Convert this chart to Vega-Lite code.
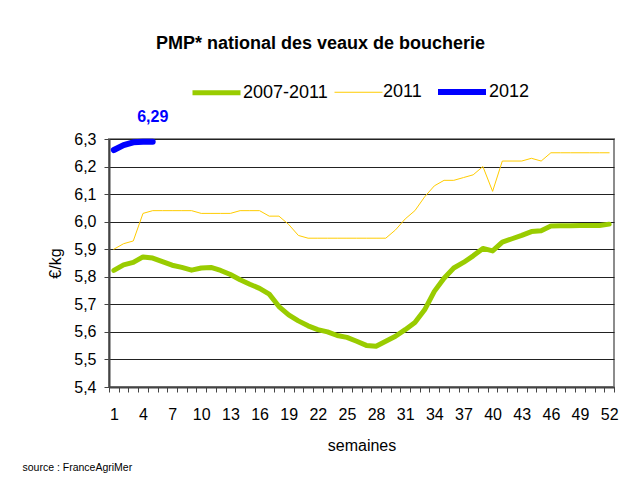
{
  "$schema": "https://vega.github.io/schema/vega-lite/v6.json",
  "width": 505,
  "height": 248,
  "autosize": "none",
  "padding": {"left": 109, "top": 139, "right": 17, "bottom": 94},
  "background": "white",
  "config": {"font": "Liberation Sans", "view": {"stroke": "#8c8c8c", "strokeWidth": 2}},
  "title": {"text": "PMP* national des veaux de boucherie", "fontSize": 18, "fontWeight": "bold", "color": "black", "anchor": "middle", "frame": "group", "dx": -41, "offset": 12},
  "datasets": {
    "series": [
      {"week": 1, "series": "2011", "value": 5.90}, {"week": 2, "series": "2011", "value": 5.92}, {"week": 3, "series": "2011", "value": 5.93}, {"week": 4, "series": "2011", "value": 6.03},
      {"week": 5, "series": "2011", "value": 6.04}, {"week": 6, "series": "2011", "value": 6.04}, {"week": 7, "series": "2011", "value": 6.04}, {"week": 8, "series": "2011", "value": 6.04},
      {"week": 9, "series": "2011", "value": 6.04}, {"week": 10, "series": "2011", "value": 6.03}, {"week": 11, "series": "2011", "value": 6.03}, {"week": 12, "series": "2011", "value": 6.03},
      {"week": 13, "series": "2011", "value": 6.03}, {"week": 14, "series": "2011", "value": 6.04}, {"week": 15, "series": "2011", "value": 6.04}, {"week": 16, "series": "2011", "value": 6.04},
      {"week": 17, "series": "2011", "value": 6.02}, {"week": 18, "series": "2011", "value": 6.02}, {"week": 19, "series": "2011", "value": 5.99}, {"week": 20, "series": "2011", "value": 5.95},
      {"week": 21, "series": "2011", "value": 5.94}, {"week": 22, "series": "2011", "value": 5.94}, {"week": 23, "series": "2011", "value": 5.94}, {"week": 24, "series": "2011", "value": 5.94},
      {"week": 25, "series": "2011", "value": 5.94}, {"week": 26, "series": "2011", "value": 5.94}, {"week": 27, "series": "2011", "value": 5.94}, {"week": 28, "series": "2011", "value": 5.94},
      {"week": 29, "series": "2011", "value": 5.94}, {"week": 30, "series": "2011", "value": 5.97}, {"week": 31, "series": "2011", "value": 6.01}, {"week": 32, "series": "2011", "value": 6.04},
      {"week": 33, "series": "2011", "value": 6.09}, {"week": 34, "series": "2011", "value": 6.13}, {"week": 35, "series": "2011", "value": 6.15}, {"week": 36, "series": "2011", "value": 6.15},
      {"week": 37, "series": "2011", "value": 6.16}, {"week": 38, "series": "2011", "value": 6.17}, {"week": 39, "series": "2011", "value": 6.20}, {"week": 40, "series": "2011", "value": 6.11},
      {"week": 41, "series": "2011", "value": 6.22}, {"week": 42, "series": "2011", "value": 6.22}, {"week": 43, "series": "2011", "value": 6.22}, {"week": 44, "series": "2011", "value": 6.23},
      {"week": 45, "series": "2011", "value": 6.22}, {"week": 46, "series": "2011", "value": 6.25}, {"week": 47, "series": "2011", "value": 6.25}, {"week": 48, "series": "2011", "value": 6.25},
      {"week": 49, "series": "2011", "value": 6.25}, {"week": 50, "series": "2011", "value": 6.25}, {"week": 51, "series": "2011", "value": 6.25}, {"week": 52, "series": "2011", "value": 6.25},
      {"week": 1, "series": "2007-2011", "value": 5.823}, {"week": 2, "series": "2007-2011", "value": 5.843}, {"week": 3, "series": "2007-2011", "value": 5.852}, {"week": 4, "series": "2007-2011", "value": 5.872},
      {"week": 5, "series": "2007-2011", "value": 5.868}, {"week": 6, "series": "2007-2011", "value": 5.855}, {"week": 7, "series": "2007-2011", "value": 5.842}, {"week": 8, "series": "2007-2011", "value": 5.834},
      {"week": 9, "series": "2007-2011", "value": 5.824}, {"week": 10, "series": "2007-2011", "value": 5.832}, {"week": 11, "series": "2007-2011", "value": 5.834}, {"week": 12, "series": "2007-2011", "value": 5.823},
      {"week": 13, "series": "2007-2011", "value": 5.808}, {"week": 14, "series": "2007-2011", "value": 5.789}, {"week": 15, "series": "2007-2011", "value": 5.773}, {"week": 16, "series": "2007-2011", "value": 5.758},
      {"week": 17, "series": "2007-2011", "value": 5.737}, {"week": 18, "series": "2007-2011", "value": 5.692}, {"week": 19, "series": "2007-2011", "value": 5.662}, {"week": 20, "series": "2007-2011", "value": 5.640},
      {"week": 21, "series": "2007-2011", "value": 5.622}, {"week": 22, "series": "2007-2011", "value": 5.608}, {"week": 23, "series": "2007-2011", "value": 5.600}, {"week": 24, "series": "2007-2011", "value": 5.587},
      {"week": 25, "series": "2007-2011", "value": 5.580}, {"week": 26, "series": "2007-2011", "value": 5.566}, {"week": 27, "series": "2007-2011", "value": 5.551}, {"week": 28, "series": "2007-2011", "value": 5.548},
      {"week": 29, "series": "2007-2011", "value": 5.566}, {"week": 30, "series": "2007-2011", "value": 5.584}, {"week": 31, "series": "2007-2011", "value": 5.608}, {"week": 32, "series": "2007-2011", "value": 5.634},
      {"week": 33, "series": "2007-2011", "value": 5.680}, {"week": 34, "series": "2007-2011", "value": 5.747}, {"week": 35, "series": "2007-2011", "value": 5.795}, {"week": 36, "series": "2007-2011", "value": 5.832},
      {"week": 37, "series": "2007-2011", "value": 5.852}, {"week": 38, "series": "2007-2011", "value": 5.876}, {"week": 39, "series": "2007-2011", "value": 5.903}, {"week": 40, "series": "2007-2011", "value": 5.894},
      {"week": 41, "series": "2007-2011", "value": 5.926}, {"week": 42, "series": "2007-2011", "value": 5.938}, {"week": 43, "series": "2007-2011", "value": 5.950}, {"week": 44, "series": "2007-2011", "value": 5.964},
      {"week": 45, "series": "2007-2011", "value": 5.967}, {"week": 46, "series": "2007-2011", "value": 5.984}, {"week": 47, "series": "2007-2011", "value": 5.985}, {"week": 48, "series": "2007-2011", "value": 5.985},
      {"week": 49, "series": "2007-2011", "value": 5.986}, {"week": 50, "series": "2007-2011", "value": 5.986}, {"week": 51, "series": "2007-2011", "value": 5.986}, {"week": 52, "series": "2007-2011", "value": 5.991},
      {"week": 1, "series": "2012", "value": 6.26}, {"week": 2, "series": "2012", "value": 6.278}, {"week": 3, "series": "2012", "value": 6.288}, {"week": 4, "series": "2012", "value": 6.29},
      {"week": 5, "series": "2012", "value": 6.29}
    ],
    "labels": [
      {"week": 5, "value": 6.29, "label": "6,29"}
    ]
  },
  "layer": [
    {
      "data": {"name": "series"},
      "mark": {"type": "line", "strokeCap": "round", "strokeJoin": "round"},
      "encoding": {
        "x": {
          "field": "week", "type": "quantitative",
          "scale": {"domain": [0.5, 52.5], "nice": false, "zero": false},
          "axis": {
            "orient": "bottom",
            "values": [0.5, 1.5, 2.5, 3.5, 4.5, 5.5, 6.5, 7.5, 8.5, 9.5, 10.5, 11.5, 12.5, 13.5, 14.5, 15.5, 16.5, 17.5, 18.5, 19.5, 20.5, 21.5, 22.5, 23.5, 24.5, 25.5, 26.5, 27.5, 28.5, 29.5, 30.5, 31.5, 32.5, 33.5, 34.5, 35.5, 36.5, 37.5, 38.5, 39.5, 40.5, 41.5, 42.5, 43.5, 44.5, 45.5, 46.5, 47.5, 48.5, 49.5, 50.5, 51.5, 52.5],
            "labelExpr": "((datum.value - 0.5) % 3 == 0 && datum.value < 52) ? format(datum.value + 0.5, 'd') : ''",
            "labelOffset": 4.86,
            "labelFontSize": 16,
            "labelColor": "black",
            "labelPadding": 14,
            "labelOverlap": false,
            "labelFlush": false,
            "labelBound": false,
            "tickSize": 5,
            "tickColor": "#444444",
            "domainColor": "#444444",
            "domainWidth": 2,
            "grid": false,
            "title": "semaines",
            "titleFontSize": 16,
            "titleFontWeight": "normal",
            "titleColor": "black",
            "titlePadding": 15
          }
        },
        "y": {
          "field": "value", "type": "quantitative",
          "scale": {"domain": [5.4, 6.3], "nice": false, "zero": false},
          "axis": {
            "values": [5.4, 5.5, 5.6, 5.7, 5.8, 5.9, 6.0, 6.1, 6.2, 6.3],
            "labelExpr": "replace(format(datum.value, '.1f'), '.', ',')",
            "labelFontSize": 16,
            "labelColor": "black",
            "labelPadding": 8,
            "tickSize": 5,
            "tickColor": "#444444",
            "domainColor": "#444444",
            "domainWidth": 2,
            "grid": true,
            "gridColor": "#222222",
            "gridWidth": 1,
            "title": "€/kg",
            "titleFontSize": 16,
            "titleFontWeight": "normal",
            "titleColor": "black",
            "titlePadding": 10
          }
        },
        "color": {
          "field": "series", "type": "nominal",
          "scale": {"domain": ["2007-2011", "2011", "2012"], "range": ["#99CC00", "#FFCC00", "#0000FF"]},
          "legend": {"orient": "none", "legendX": 81, "legendY": -74, "direction": "horizontal", "title": null, "symbolType": "stroke", "symbolSize": 2304, "labelFontSize": 18, "labelColor": "black", "labelOffset": 0, "columnPadding": 4, "padding": 0}
        },
        "strokeWidth": {
          "field": "series", "type": "nominal",
          "scale": {"type": "ordinal", "domain": ["2007-2011", "2011", "2012"], "range": [5, 1, 6]},
          "legend": {"orient": "none", "legendX": 81, "legendY": -74, "direction": "horizontal", "title": null, "symbolType": "stroke", "symbolSize": 2304, "labelFontSize": 18, "labelColor": "black", "labelOffset": 0, "columnPadding": 4, "padding": 0}
        }
      }
    },
    {
      "data": {"name": "labels"},
      "mark": {"type": "text", "dy": -20, "fontSize": 16, "fontWeight": "bold", "color": "#0000FF", "baseline": "alphabetic", "align": "center"},
      "encoding": {
        "x": {
          "field": "week", "type": "quantitative",
          "axis": {"orient": "bottom", "labels": false, "ticks": false, "domain": false, "grid": false, "title": "source : FranceAgriMer", "titleFontSize": 10.5, "titleFontWeight": "normal", "titleColor": "black", "titleAlign": "left", "titleAnchor": "start", "titleBaseline": "alphabetic", "titleX": -87, "titleY": 83}
        },
        "y": {
          "field": "value", "type": "quantitative",
          "axis": {
            "values": [5.4, 5.5, 5.6, 5.7, 5.8, 5.9, 6.0, 6.1, 6.2, 6.3],
            "labelExpr": "replace(format(datum.value, '.1f'), '.', ',')",
            "labelFontSize": 16,
            "labelColor": "black",
            "labelPadding": 8,
            "tickSize": 5,
            "tickColor": "#444444",
            "domainColor": "#444444",
            "domainWidth": 2,
            "grid": true,
            "gridColor": "#222222",
            "gridWidth": 1,
            "title": "€/kg",
            "titleFontSize": 16,
            "titleFontWeight": "normal",
            "titleColor": "black",
            "titlePadding": 10
          }
        },
        "text": {"field": "label"}
      }
    }
  ],
  "resolve": {"axis": {"x": "independent"}}
}
